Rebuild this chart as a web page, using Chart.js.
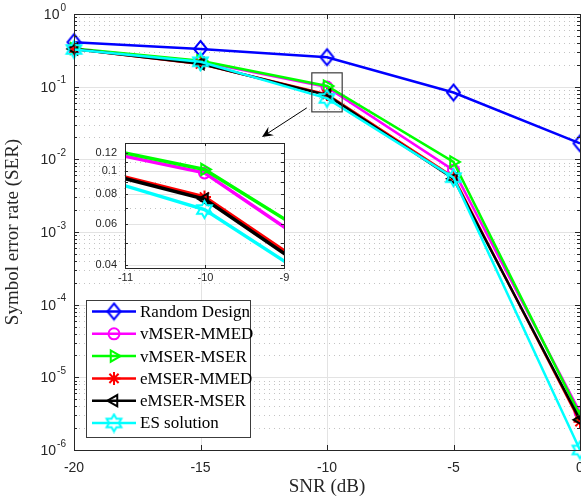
<!DOCTYPE html>
<html>
<head>
<meta charset="utf-8">
<title>SER vs SNR</title>
<script src="https://cdn.jsdelivr.net/npm/chart.js@4.4.0/dist/chart.umd.min.js"></script>
<style>
    html, body { margin: 0; padding: 0; background: #fff; overflow: hidden; }
    #wrap { position: relative; width: 581px; height: 497px; overflow: hidden; }
    #main { position: absolute; left: 0; top: 0; width: 600px; height: 497px; }
    #zoom { position: absolute; left: 90px; top: 135px; width: 200px; height: 150px; }
</style>
</head>
<body>
<div id="wrap">
    <canvas id="main" width="600" height="497"></canvas>
    <canvas id="zoom" width="200" height="150"></canvas>
</div>
<script>
// --- Data ---
const snrDb = [-20, -15, -10, -5, 0];
const serRandom = [0.41, 0.33, 0.254, 0.083, 0.0166];
const serVmserMmed = [0.33, 0.222, 0.0986, 0.0071, 3.3e-6];
const serVmserMser = [0.335, 0.227, 0.102, 0.0092, 3.0e-6];
const serEmserMmed = [0.33, 0.205, 0.078, 0.0057, 2.45e-6];
const serEmserMser = [0.33, 0.207, 0.0764, 0.0054, 2.6e-6];
const serEs = [0.325, 0.22, 0.069, 0.0056, 1.0e-6];

const seriesNames = ['Random Design', 'vMSER-MMED', 'vMSER-MSER', 'eMSER-MMED', 'eMSER-MSER', 'ES solution'];
const seriesValues = [serRandom, serVmserMmed, serVmserMser, serEmserMmed, serEmserMser, serEs];
const seriesColors = ['#0000ff', '#ff00ff', '#00ff00', '#ff0000', '#000000', '#00ffff'];

const xTicks = [-20, -15, -10, -5, 0];
const yExponents = [0, -1, -2, -3, -4, -5, -6];
const zoomXTicks = [-11, -10, -9];
const zoomYTicks = [0.04, 0.06, 0.08, 0.1, 0.12];
const zoomYMinor = [0.05, 0.07, 0.09, 0.11];

const axisColor = '#262626';
const gridColor = '#e3e3e3';
const minorColor = '#c4c4c4';

// --- Custom markers (diamond and hexagram) ---
function markerCanvas(w, h, color, pathFn) {
    const c = document.createElement('canvas');
    c.width = w;
    c.height = h;
    const g = c.getContext('2d');
    g.strokeStyle = color;
    g.lineWidth = 2;
    g.lineJoin = 'miter';
    g.beginPath();
    pathFn(g, w / 2, h / 2);
    g.closePath();
    g.stroke();
    return c;
}

const diamond = markerCanvas(17, 20, '#0000ff', function (g, cx, cy) {
    g.moveTo(cx, cy - 8);
    g.lineTo(cx + 6.5, cy);
    g.lineTo(cx, cy + 8);
    g.lineTo(cx - 6.5, cy);
});

const hexagram = markerCanvas(21, 21, '#00ffff', function (g, cx, cy) {
    const R = 8.5, r = 8.5 / Math.sqrt(3);
    for (let k = 0; k < 12; k++) {
        const a = -Math.PI / 2 + k * Math.PI / 6;
        const rad = k % 2 === 0 ? R : r;
        const px = cx + rad * Math.cos(a), py = cy + rad * Math.sin(a);
        if (k === 0) g.moveTo(px, py); else g.lineTo(px, py);
    }
});

const markerStyles = [diamond, 'circle', 'triangle', 'star', 'triangle', hexagram];
const markerRadius = [7, 5.5, 6.5, 6.5, 6.5, 8];
const markerRotation = [0, 0, 90, 0, -90, 0];

function buildDatasets(lineWidth, clip) {
    return seriesNames.map(function (name, i) {
        return {
            label: name,
            data: snrDb.map(function (x, k) { return { x: x, y: seriesValues[i][k] }; }),
            borderColor: seriesColors[i],
            backgroundColor: 'rgba(0,0,0,0)',
            borderWidth: lineWidth,
            pointStyle: markerStyles[i],
            pointRadius: markerRadius[i],
            pointRotation: markerRotation[i],
            pointBorderColor: seriesColors[i],
            pointBackgroundColor: 'rgba(0,0,0,0)',
            pointBorderWidth: 2,
            tension: 0,
            clip: clip,
            order: seriesNames.length - i
        };
    });
}

function hLine(ctx, x1, x2, y) { ctx.beginPath(); ctx.moveTo(x1, y); ctx.lineTo(x2, y); ctx.stroke(); }
function vLine(ctx, x, y1, y2) { ctx.beginPath(); ctx.moveTo(x, y1); ctx.lineTo(x, y2); ctx.stroke(); }

function minorDecades(lo, hi) {
    const out = [];
    for (let e = lo; e < hi; e++) {
        for (let m = 2; m <= 9; m++) out.push(m * Math.pow(10, e));
    }
    return out;
}

// --- Main chart: grid, box, labels, legend, zoom marker ---
const mainDecor = {
    id: 'mainDecor',
    beforeDatasetsDraw: function (chart) {
        const ctx = chart.ctx, a = chart.chartArea;
        const xs = chart.scales.x, ys = chart.scales.y;
        ctx.save();
        ctx.lineWidth = 1;
        ctx.strokeStyle = minorColor;
        ctx.setLineDash([1, 4]);
        minorDecades(-6, 0).forEach(function (v) {
            hLine(ctx, a.left, a.right, Math.round(ys.getPixelForValue(v)) + 0.5);
        });
        ctx.setLineDash([]);
        ctx.strokeStyle = gridColor;
        yExponents.forEach(function (e) {
            hLine(ctx, a.left, a.right, Math.round(ys.getPixelForValue(Math.pow(10, e))) + 0.5);
        });
        xTicks.forEach(function (v) {
            vLine(ctx, Math.round(xs.getPixelForValue(v)) + 0.5, a.top, a.bottom);
        });
        ctx.restore();
    },
    afterDatasetsDraw: function (chart) {
        const ctx = chart.ctx, a = chart.chartArea;
        const xs = chart.scales.x, ys = chart.scales.y;
        ctx.save();

        // axes box and inward ticks
        ctx.strokeStyle = axisColor;
        ctx.lineWidth = 1;
        ctx.strokeRect(a.left + 0.5, a.top + 0.5, a.right - a.left, a.bottom - a.top);
        xTicks.forEach(function (v) {
            const px = Math.round(xs.getPixelForValue(v)) + 0.5;
            vLine(ctx, px, a.bottom, a.bottom - 5);
            vLine(ctx, px, a.top, a.top + 5);
        });
        yExponents.forEach(function (e) {
            const py = Math.round(ys.getPixelForValue(Math.pow(10, e))) + 0.5;
            hLine(ctx, a.left, a.left + 5, py);
            hLine(ctx, a.right, a.right - 5, py);
        });
        minorDecades(-6, 0).forEach(function (v) {
            const py = Math.round(ys.getPixelForValue(v)) + 0.5;
            hLine(ctx, a.left, a.left + 3, py);
            hLine(ctx, a.right, a.right - 3, py);
        });

        // y tick labels as 10 with a raised exponent
        ctx.fillStyle = axisColor;
        ctx.textBaseline = 'middle';
        ctx.textAlign = 'left';
        yExponents.forEach(function (e) {
            const py = ys.getPixelForValue(Math.pow(10, e));
            const sup = String(e);
            ctx.font = '10px "Liberation Sans"';
            const wSup = ctx.measureText(sup).width;
            ctx.font = '14px "Liberation Sans"';
            const wBase = ctx.measureText('10').width;
            const right = a.left - 8;
            ctx.fillText('10', right - wSup - wBase - 1, py + 1);
            ctx.font = '10px "Liberation Sans"';
            ctx.fillText(sup, right - wSup, py - 6);
        });

        // axis titles
        ctx.font = '19px "Liberation Serif"';
        ctx.textAlign = 'center';
        ctx.fillText('SNR (dB)', xs.getPixelForValue(-10), 487);
        ctx.save();
        ctx.translate(13, (a.top + a.bottom) / 2);
        ctx.rotate(-Math.PI / 2);
        ctx.fillText('Symbol error rate (SER)', 0, 0);
        ctx.restore();

        // box around the zoomed region
        ctx.strokeStyle = '#3c3c3c';
        ctx.lineWidth = 1.2;
        const rx1 = xs.getPixelForValue(-10.6), rx2 = xs.getPixelForValue(-9.4);
        const ry1 = ys.getPixelForValue(0.155), ry2 = ys.getPixelForValue(0.045);
        ctx.strokeRect(rx1, ry1, rx2 - rx1, ry2 - ry1);

        // arrow pointing to the inset
        const ax1 = xs.getPixelForValue(-10.8), ay1 = ys.getPixelForValue(0.051);
        const ax2 = xs.getPixelForValue(-12.57), ay2 = ys.getPixelForValue(0.0203);
        const ang = Math.atan2(ay2 - ay1, ax2 - ax1);
        ctx.strokeStyle = '#000';
        ctx.fillStyle = '#000';
        ctx.lineWidth = 1;
        ctx.beginPath();
        ctx.moveTo(ax1, ay1);
        ctx.lineTo(ax2 - 6 * Math.cos(ang), ay2 - 6 * Math.sin(ang));
        ctx.stroke();
        ctx.save();
        ctx.translate(ax2, ay2);
        ctx.rotate(ang);
        ctx.beginPath();
        ctx.moveTo(0, 0);
        ctx.lineTo(-11, -5);
        ctx.lineTo(-7, 0);
        ctx.lineTo(-11, 5);
        ctx.closePath();
        ctx.fill();
        ctx.restore();

        // legend
        const lx = 86, ly = 300, lw = 164, lh = 137;
        ctx.fillStyle = '#fff';
        ctx.fillRect(lx, ly, lw, lh);
        ctx.strokeStyle = '#3c3c3c';
        ctx.lineWidth = 1;
        ctx.strokeRect(lx + 0.5, ly + 0.5, lw, lh);
        ctx.font = '17px "Liberation Serif"';
        ctx.textAlign = 'left';
        ctx.textBaseline = 'middle';
        chart.data.datasets.forEach(function (ds, i) {
            const cy = 311.5 + i * 22.3;
            ctx.strokeStyle = ds.borderColor;
            ctx.lineWidth = 2.5;
            hLine(ctx, 92, 136, cy);
            ctx.lineWidth = 2;
            ctx.fillStyle = 'rgba(0,0,0,0)';
            Chart.helpers.drawPoint(ctx, {
                pointStyle: ds.pointStyle,
                radius: ds.pointRadius,
                rotation: ds.pointRotation,
                borderWidth: 2
            }, 114, cy);
            ctx.fillStyle = '#000';
            ctx.fillText(ds.label, 140, cy + 1);
        });
        ctx.restore();
    }
};

const mainChart = new Chart(document.getElementById('main'), {
    type: 'line',
    data: { datasets: buildDatasets(2.5, false) },
    options: {
        responsive: false,
        animation: false,
        layout: { autoPadding: false, padding: { left: 0, top: 14, right: 20, bottom: 0 } },
        plugins: { legend: { display: false }, tooltip: { enabled: false } },
        scales: {
            x: {
                type: 'linear',
                min: -20,
                max: 0,
                grid: { display: false, drawTicks: false },
                border: { display: false },
                afterBuildTicks: function (scale) {
                    scale.ticks = xTicks.map(function (v) { return { value: v }; });
                },
                ticks: {
                    autoSkip: false,
                    maxRotation: 0,
                    padding: 10,
                    color: axisColor,
                    font: { family: 'Liberation Sans', size: 14 }
                },
                afterFit: function (scale) {
                    scale.height = 47;
                    scale.paddingLeft = 0;
                    scale.paddingRight = 0;
                }
            },
            y: {
                type: 'logarithmic',
                min: 1e-6,
                max: 1,
                grid: { display: false, drawTicks: false },
                border: { display: false },
                ticks: { display: false },
                afterFit: function (scale) {
                    scale.width = 74;
                    scale.paddingTop = 0;
                    scale.paddingBottom = 0;
                }
            }
        }
    },
    plugins: [mainDecor]
});

// --- Inset chart around SNR = -10 dB ---
const zoomDecor = {
    id: 'zoomDecor',
    beforeDatasetsDraw: function (chart) {
        const ctx = chart.ctx, a = chart.chartArea;
        const xs = chart.scales.x, ys = chart.scales.y;
        ctx.save();
        ctx.fillStyle = '#fff';
        ctx.fillRect(a.left, a.top, a.right - a.left, a.bottom - a.top);
        ctx.lineWidth = 1;
        ctx.strokeStyle = minorColor;
        ctx.setLineDash([1, 4]);
        zoomYMinor.forEach(function (v) {
            hLine(ctx, a.left, a.right, Math.round(ys.getPixelForValue(v)) + 0.5);
        });
        ctx.setLineDash([]);
        ctx.strokeStyle = gridColor;
        zoomYTicks.forEach(function (v) {
            hLine(ctx, a.left, a.right, Math.round(ys.getPixelForValue(v)) + 0.5);
        });
        zoomXTicks.forEach(function (v) {
            vLine(ctx, Math.round(xs.getPixelForValue(v)) + 0.5, a.top, a.bottom);
        });
        ctx.restore();
    },
    afterDatasetsDraw: function (chart) {
        const ctx = chart.ctx, a = chart.chartArea;
        const xs = chart.scales.x, ys = chart.scales.y;
        ctx.save();
        ctx.strokeStyle = axisColor;
        ctx.lineWidth = 1;
        ctx.strokeRect(a.left + 0.5, a.top + 0.5, a.right - a.left, a.bottom - a.top);
        ctx.fillStyle = axisColor;
        ctx.font = '11px "Liberation Sans"';
        ctx.textAlign = 'center';
        ctx.textBaseline = 'top';
        zoomXTicks.forEach(function (v) {
            const px = Math.round(xs.getPixelForValue(v)) + 0.5;
            vLine(ctx, px, a.bottom, a.bottom - 3);
            vLine(ctx, px, a.top, a.top + 3);
            ctx.fillText(String(v), px, a.bottom + 4);
        });
        zoomYTicks.concat(zoomYMinor).forEach(function (v) {
            const py = Math.round(ys.getPixelForValue(v)) + 0.5;
            hLine(ctx, a.left, a.left + 3, py);
            hLine(ctx, a.right, a.right - 3, py);
        });
        ctx.restore();
    }
};

const zoomChart = new Chart(document.getElementById('zoom'), {
    type: 'line',
    data: { datasets: buildDatasets(3.5, 0) },
    options: {
        responsive: false,
        animation: false,
        layout: { autoPadding: false, padding: { left: 0, top: 8, right: 6, bottom: 0 } },
        plugins: { legend: { display: false }, tooltip: { enabled: false } },
        scales: {
            x: {
                type: 'linear',
                min: -11,
                max: -9,
                grid: { display: false, drawTicks: false },
                border: { display: false },
                ticks: { display: false },
                afterFit: function (scale) {
                    scale.height = 17;
                    scale.paddingLeft = 0;
                    scale.paddingRight = 0;
                }
            },
            y: {
                type: 'logarithmic',
                min: 0.039,
                max: 0.132,
                grid: { display: false, drawTicks: false },
                border: { display: false },
                afterBuildTicks: function (scale) {
                    scale.ticks = zoomYTicks.map(function (v) { return { value: v }; });
                },
                ticks: {
                    autoSkip: false,
                    padding: 8,
                    color: axisColor,
                    font: { family: 'Liberation Sans', size: 11 },
                    callback: function (v) { return String(Math.round(v * 100) / 100); }
                },
                afterFit: function (scale) {
                    scale.width = 35;
                    scale.paddingTop = 0;
                    scale.paddingBottom = 0;
                }
            }
        }
    },
    plugins: [zoomDecor]
});
</script>
</body>
</html>
